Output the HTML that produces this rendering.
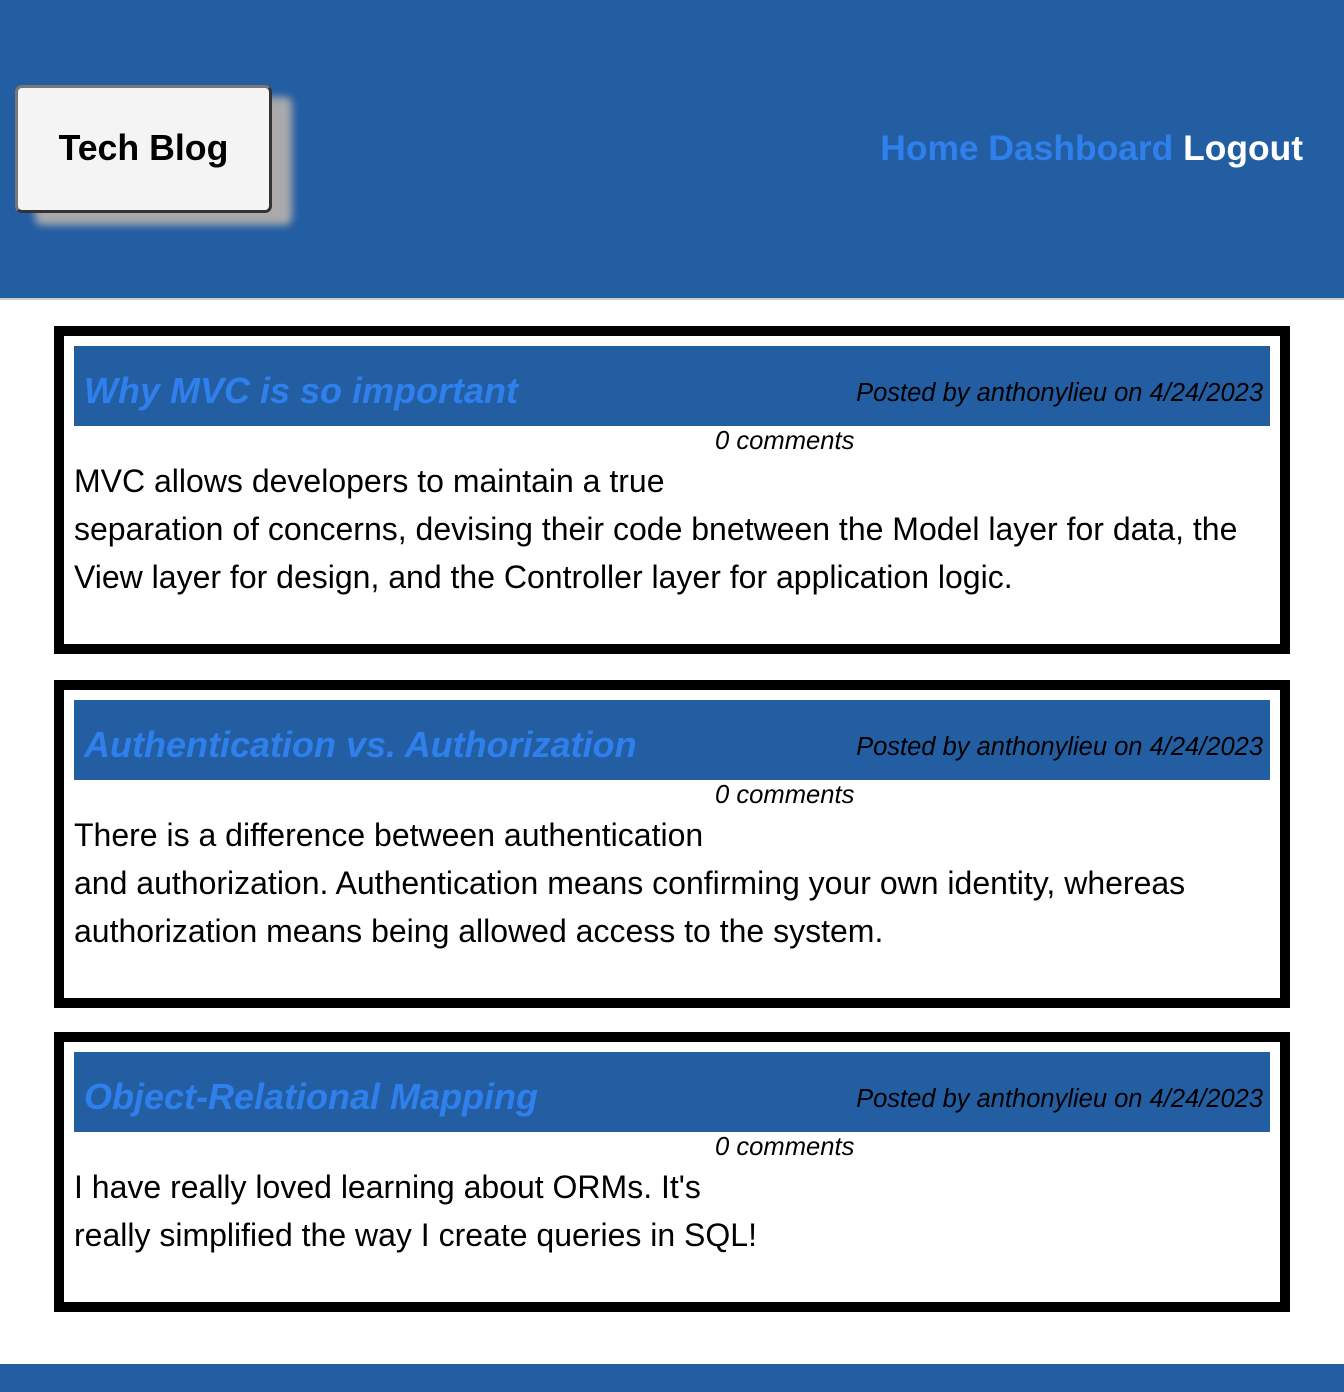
<!DOCTYPE html>
<html><head><meta charset="utf-8"><style>
*{margin:0;padding:0;box-sizing:border-box}
body{width:1344px;height:1392px;position:relative;background:#fff;font-family:"Liberation Sans",Arial,sans-serif;overflow:hidden}
.hdr{position:absolute;left:0;top:0;width:1344px;background:#235ea3;border-bottom:2px solid #ccc;height:300px}
.logo{position:absolute;left:15px;top:85px;width:257px;height:128px;background:#f4f4f4;border:3px solid #333;border-top-color:#777;border-left-color:#777;border-radius:7px;box-shadow:20px 12px 8px #aaa;font-weight:bold;font-size:35.7px;text-align:center;line-height:120px;color:#000}
.nav{position:absolute;right:41px;top:128px;font-weight:bold;font-size:35.4px;color:#2f80ed;white-space:nowrap}
.nav b{color:#fff}
.card{position:absolute;left:54px;width:1236px;border:10px solid #000;background:#fff}
.ch{position:absolute;left:10px;right:10px;top:10px;height:80px;background:#235ea3}
.ch h2{position:absolute;left:10px;top:24px;font-size:36px;font-style:italic;font-weight:bold;color:#2f80ed;white-space:nowrap}
.ch span{position:absolute;right:7px;top:33px;font-size:25.5px;font-style:italic;color:#000;white-space:nowrap}
.cm{position:absolute;left:651px;top:91px;font-size:25.6px;font-style:italic;white-space:nowrap}
.bd{position:absolute;left:10px;top:121px;font-size:32px;line-height:48px;color:#000;white-space:nowrap}
.ft{position:absolute;left:0;top:1364px;width:1344px;height:28px;background:#235ea3}
</style></head><body>
<div class="hdr"><div class="logo">Tech Blog</div><div class="nav">Home Dashboard <b>Logout</b></div></div>
<div class="card" style="top:326px;height:328px"><div class="ch"><h2>Why MVC is so important</h2><span>Posted by anthonylieu on 4/24/2023</span></div><div class="cm">0 comments</div><div class="bd">MVC allows developers to maintain a true<br>separation of concerns, devising their code bnetween the Model layer for data, the<br>View layer for design, and the Controller layer for application logic.</div></div>
<div class="card" style="top:680px;height:328px"><div class="ch"><h2>Authentication vs. Authorization</h2><span>Posted by anthonylieu on 4/24/2023</span></div><div class="cm">0 comments</div><div class="bd">There is a difference between authentication<br>and authorization. Authentication means confirming your own identity, whereas<br>authorization means being allowed access to the system.</div></div>
<div class="card" style="top:1032px;height:280px"><div class="ch"><h2>Object-Relational Mapping</h2><span>Posted by anthonylieu on 4/24/2023</span></div><div class="cm">0 comments</div><div class="bd">I have really loved learning about ORMs. It's<br>really simplified the way I create queries in SQL!</div></div>
<div class="ft"></div>
</body></html>
